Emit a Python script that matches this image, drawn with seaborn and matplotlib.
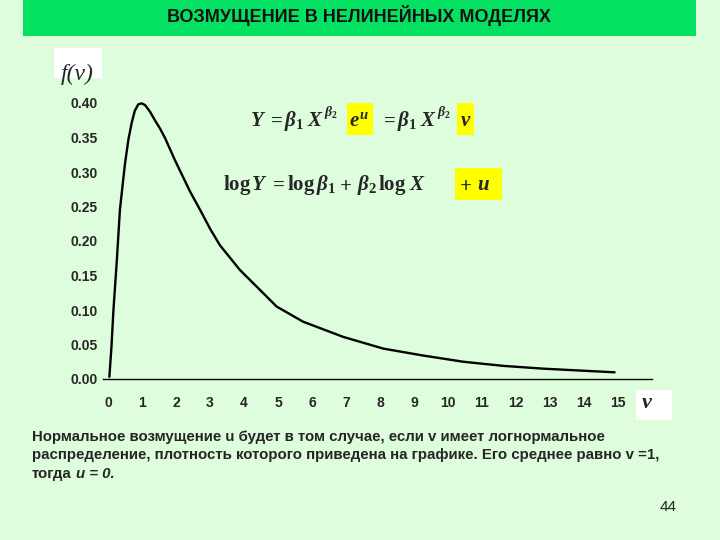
import matplotlib
matplotlib.use("Agg")
import matplotlib.pyplot as plt
import seaborn as sns
from matplotlib.patches import Rectangle

# values (lognormal density)
v = [0.04, 0.10, 0.16, 0.26, 0.35, 0.45, 0.5, 0.6, 0.7, 0.79, 0.89, 0.99, 1.09,
     1.24, 1.38, 1.53, 1.68, 1.97, 2.41, 2.71, 3.0, 3.29, 3.88, 4.37, 4.96,
     5.74, 6.92, 8.1, 9.27, 10.45, 11.63, 12.8, 13.98, 14.9]
f_v = [0.003, 0.045, 0.10, 0.172, 0.245, 0.29, 0.312, 0.347, 0.372, 0.389,
       0.398, 0.3995, 0.397, 0.387, 0.375, 0.363, 0.349, 0.317, 0.272, 0.245,
       0.218, 0.194, 0.158, 0.134, 0.105, 0.083, 0.061, 0.044, 0.034, 0.025,
       0.019, 0.015, 0.012, 0.0097]
x_ticks = list(range(16))
y_ticks = [0.0, 0.05, 0.10, 0.15, 0.20, 0.25, 0.30, 0.35, 0.40]

title = "ВОЗМУЩЕНИЕ В НЕЛИНЕЙНЫХ МОДЕЛЯХ"
caption = ["Нормальное возмущение u будет в том случае, если v имеет логнормальное",
           "распределение, плотность которого приведена на графике. Его среднее равно v =1,"]
caption_end = ("тогда", "u = 0.")

# equation pieces: (text, left pixel)
eq1 = [(r"$Y$", 250), (r"$=$", 267), (r"$\beta_1$", 284), (r"$X$", 307),
       (r"$e^{u}$", 349), (r"$=$", 380), (r"$\beta_1$", 397), (r"$X$", 420),
       (r"$v$", 460)]
eq1_sup = [(r"$\beta_2$", 324), (r"$\beta_2$", 437)]
eq2 = [(r"$\mathrm{log}$", 223), (r"$Y$", 251), (r"$=$", 269), (r"$\mathrm{log}$", 287),
       (r"$\beta_1$", 316), (r"$+$", 339), (r"$\beta_2$", 357), (r"$\mathrm{log}$", 378),
       (r"$X$", 409), (r"$+$", 459), (r"$u$", 477)]

BG = "#DDFDDC"
W, H = 720, 540

sns.set_style("white")
plt.rcParams["font.family"] = ["Liberation Sans", "DejaVu Sans"]
plt.rcParams["mathtext.fontset"] = "custom"
plt.rcParams["mathtext.rm"] = "Liberation Serif:bold"
plt.rcParams["mathtext.it"] = "Liberation Serif:italic:bold"
plt.rcParams["mathtext.bf"] = "Liberation Serif:bold"

fig = plt.figure(figsize=(7.2, 5.4), dpi=100, facecolor=BG)


def fx(px):
    return px / W


def fy(py):
    return 1 - py / H


def box(x0, y0, x1, y1, color):
    fig.patches.append(Rectangle((fx(x0), fy(y1)), (x1 - x0) / W, (y1 - y0) / H,
                                 transform=fig.transFigure, facecolor=color,
                                 edgecolor="none", zorder=0))


# title bar
box(23, 0, 696, 36, "#04E062")
fig.text(fx(359), fy(16), title, ha="center", va="center",
         fontsize=13, fontweight="bold", color="#111111")

# axes: x=0 at px 108, 34 px per unit; y=0 at px 379, 690 px per unit
ax = fig.add_axes([fx(103), fy(379), 549 / W, 0.42 * 690 / H])
ax.set_facecolor("none")
sns.lineplot(x=v, y=f_v, ax=ax, color="black", lw=1.7)
ax.set_xlim(-0.147, 16.0)
ax.set_ylim(0, 0.42)
ax.set_xticks(x_ticks)
ax.set_xticklabels([str(t) for t in x_ticks], fontsize=10, fontweight="bold")
ax.set_yticks(y_ticks)
ax.set_yticklabels([f"{t:.2f}" for t in y_ticks], fontsize=10, fontweight="bold")
ax.tick_params(axis="x", length=0, pad=12)
ax.tick_params(axis="y", direction="in", length=4, width=0.8, pad=4)
for s in ["left", "top", "right"]:
    ax.spines[s].set_visible(False)
ax.spines["bottom"].set_color("black")
ax.spines["bottom"].set_linewidth(1)
ax.set_xlabel("")
ax.set_ylabel("")

# f(v) label and v label in white boxes
box(54, 48, 102, 78, "white")
fig.text(fx(61), fy(80), "f(v)", ha="left", va="baseline",
         family="Liberation Serif", style="italic", fontsize=17)
box(636, 390, 672, 420, "white")
fig.text(fx(642), fy(408), "v", ha="left", va="baseline",
         family="Liberation Serif", style="italic", fontweight="bold", fontsize=16)

# equations with highlights
box(347, 103, 373, 135, "#FFFF00")
box(457, 103, 474, 135, "#FFFF00")
box(455, 168, 502, 200, "#FFFF00")
for txt, px in eq1:
    fig.text(fx(px), fy(126), txt, ha="left", va="baseline", fontsize=15, zorder=3)
for txt, px in eq1_sup:
    fig.text(fx(px), fy(116), txt, ha="left", va="baseline", fontsize=10, zorder=3)
for txt, px in eq2:
    fig.text(fx(px), fy(190), txt, ha="left", va="baseline", fontsize=15, zorder=3)

# caption
for i, line in enumerate(caption):
    fig.text(fx(32), fy(441 + 18.5 * i), line, ha="left", va="baseline",
             fontsize=10.8, fontweight="bold")
fig.text(fx(32), fy(478), caption_end[0], ha="left", va="baseline",
         fontsize=10.8, fontweight="bold")
fig.text(fx(76), fy(478), caption_end[1], ha="left", va="baseline",
         fontsize=10.8, fontweight="bold", style="italic")

fig.text(fx(668), fy(507), "44", ha="center", va="center", fontsize=11, color="#222222")

fig.savefig("out.png", dpi=100, facecolor=BG)
